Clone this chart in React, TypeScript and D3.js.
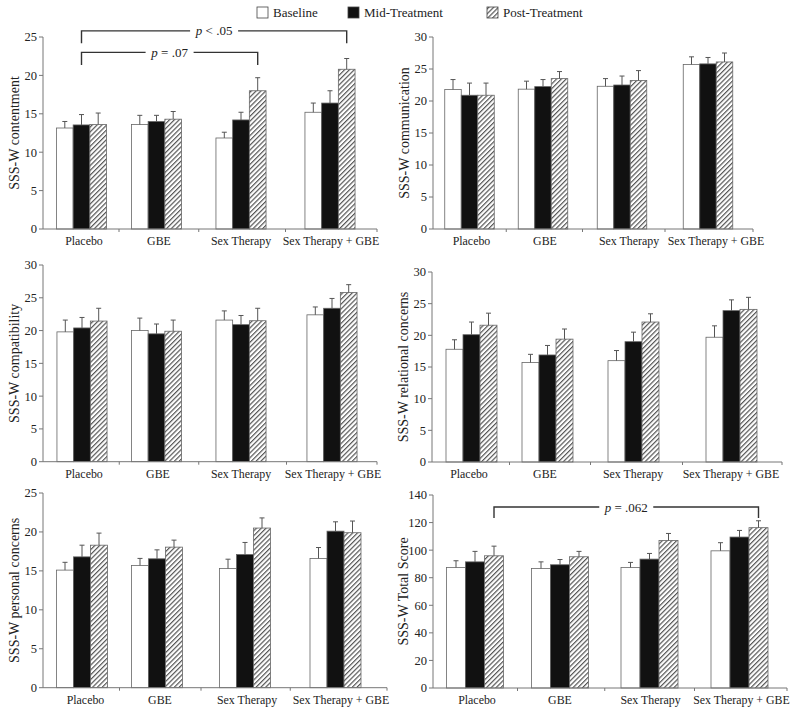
import React from 'react';
import * as d3 from 'd3';

const groups = ['Placebo', 'GBE', 'Sex Therapy', 'Sex Therapy + GBE'];
const seriesNames = ['Baseline', 'Mid-Treatment', 'Post-Treatment'];

// values per series: [Baseline], [Mid], [Post], each across groups
const contentmentMean = [
  [13.15, 13.6, 11.85, 15.2],
  [13.55, 14.0, 14.2, 16.4],
  [13.6, 14.3, 18.0, 20.8],
];
const contentmentUpper = [
  [14.0, 14.8, 12.6, 16.4],
  [14.9, 14.8, 15.2, 18.0],
  [15.1, 15.3, 19.7, 22.2],
];
const communicationMean = [
  [21.8, 21.85, 22.3, 25.7],
  [20.9, 22.25, 22.5, 25.8],
  [20.9, 23.5, 23.2, 26.1],
];
const communicationUpper = [
  [23.35, 23.1, 23.5, 26.9],
  [22.8, 23.35, 23.9, 26.8],
  [22.8, 24.6, 24.75, 27.5],
];
const compatibilityMean = [
  [19.8, 20.0, 21.6, 22.4],
  [20.4, 19.5, 20.9, 23.4],
  [21.45, 19.9, 21.5, 25.8],
];
const compatibilityUpper = [
  [21.6, 21.9, 23.0, 23.6],
  [22.0, 21.0, 22.3, 24.9],
  [23.4, 21.6, 23.4, 27.0],
];
const relationalMean = [
  [17.8, 15.7, 16.0, 19.7],
  [20.1, 16.9, 19.0, 23.9],
  [21.6, 19.4, 22.1, 24.1],
];
const relationalUpper = [
  [19.3, 17.0, 17.6, 21.5],
  [22.1, 18.4, 20.5, 25.6],
  [23.5, 21.0, 23.4, 26.0],
];
const personalMean = [
  [15.1, 15.7, 15.3, 16.6],
  [16.8, 16.55, 17.1, 20.1],
  [18.3, 18.05, 20.5, 19.9],
];
const personalUpper = [
  [16.1, 16.6, 16.5, 18.0],
  [18.3, 17.7, 18.65, 21.3],
  [19.85, 18.95, 21.8, 21.4],
];
const totalMean = [
  [87.4, 86.7, 87.4, 99.5],
  [91.5, 89.4, 93.5, 109.5],
  [95.9, 95.2, 107.0, 116.3],
];
const totalUpper = [
  [92.3, 91.5, 91.1, 105.4],
  [99.1, 93.2, 97.6, 114.3],
  [102.9, 99.1, 112.1, 121.3],
];

const titles = [
  'SSS-W contentment',
  'SSS-W communication',
  'SSS-W compatibility',
  'SSS-W relational concerns',
  'SSS-W personal concerns',
  'SSS-W Total Score',
];

type Bracket = { from: [number, number]; to: [number, number]; y: number; drop: number; label: string };

// layout (pixel ranges for the group scales)
const panels = [
  { title: titles[0], mean: contentmentMean, upper: contentmentUpper, yMax: 25, step: 5,
    axisX: 43, yTop: 37, yBottom: 229, xEnd: 377,
    groupRange: [81.5, 156.5, 241, 330], labelRange: [84, 159, 241, 331], barW: 16.7, titleX: 14,
    brackets: [
      { from: [0, 1], to: [3, 2], y: 25.8, drop: 24.2, label: ' < .05' },
      { from: [0, 1], to: [2, 2], y: 23.0, drop: 21.35, label: ' = .07' },
    ] as Bracket[] },
  { title: titles[1], mean: communicationMean, upper: communicationUpper, yMax: 30, step: 5,
    axisX: 433, yTop: 37, yBottom: 229, xEnd: 753,
    groupRange: [469.5, 543, 622, 708], labelRange: [471.5, 545, 629, 716], barW: 16.5, titleX: 404,
    brackets: [] as Bracket[] },
  { title: titles[2], mean: compatibilityMean, upper: compatibilityUpper, yMax: 30, step: 5,
    axisX: 43, yTop: 265, yBottom: 461.7, xEnd: 377,
    groupRange: [82, 156.5, 241, 332], labelRange: [84, 158, 241, 333], barW: 16.7, titleX: 14,
    brackets: [] as Bracket[] },
  { title: titles[3], mean: relationalMean, upper: relationalUpper, yMax: 30, step: 5,
    axisX: 432, yTop: 272, yBottom: 462, xEnd: 782,
    groupRange: [471.5, 547.5, 633.5, 731.5], labelRange: [469, 545, 633, 731], barW: 17, titleX: 403,
    brackets: [] as Bracket[] },
  { title: titles[4], mean: personalMean, upper: personalUpper, yMax: 25, step: 5,
    axisX: 43, yTop: 493, yBottom: 687.7, xEnd: 387,
    groupRange: [82, 157, 245, 335.5], labelRange: [85.5, 160, 247, 341], barW: 17, titleX: 14,
    brackets: [] as Bracket[] },
  { title: titles[5], mean: totalMean, upper: totalUpper, yMax: 140, step: 20,
    axisX: 433, yTop: 495, yBottom: 688, xEnd: 787,
    groupRange: [475, 560, 649.5, 739.5], labelRange: [477, 560, 650.5, 741.5], barW: 19, titleX: 403,
    brackets: [
      { from: [0, 2], to: [3, 2], y: 131.3, drop: 123.3, label: ' = .062' },
    ] as Bracket[] },
];

const FONT = '"Liberation Serif", "Times New Roman", serif';
const AXIS = '#777';
const fills = ['#ffffff', '#111111', 'url(#hatch)'];

function Panel({ p }: { p: typeof panels[number] }) {
  const y = d3.scaleLinear().domain([0, p.yMax]).range([p.yBottom, p.yTop]);
  const gi = d3.scaleOrdinal<string, number>().domain(groups).range(d3.range(groups.length));
  const x = d3.scaleLinear().domain(d3.range(groups.length)).range(p.groupRange);
  const xl = d3.scaleLinear().domain(d3.range(groups.length)).range(p.labelRange);
  const xs = d3.scaleBand<string>().domain(seriesNames).range([-1.5 * p.barW, 1.5 * p.barW]);
  const ticks = d3.range(0, p.yMax + p.step / 2, p.step);
  const centers = groups.map((g) => x(gi(g)));
  const sepTicks = centers.slice(0, -1).map((c, i) => (c + centers[i + 1]) / 2).concat([p.xEnd]);
  const barCenter = (g: number, si: number) => x(g) + (xs(seriesNames[si]) as number) + xs.bandwidth() / 2;
  const titleY = (p.yTop + p.yBottom) / 2;
  return (
    <g>
      {seriesNames.map((s, si) =>
        groups.map((g) => {
          const v = p.mean[si][gi(g)];
          const bx = x(gi(g)) + (xs(s) as number);
          return (
            <rect key={s + g} x={bx} y={y(v)} width={xs.bandwidth()} height={p.yBottom - y(v)}
              fill={fills[si]} stroke="#666" strokeWidth={0.8} />
          );
        })
      )}
      {seriesNames.map((s, si) =>
        groups.map((g) => {
          const k = gi(g);
          const cx = barCenter(k, si);
          const top = y(p.upper[si][k]);
          return (
            <g key={'e' + s + g} stroke="#555" strokeWidth={1}>
              <line x1={cx} x2={cx} y1={y(p.mean[si][k])} y2={top} />
              <line x1={cx - 2.5} x2={cx + 2.5} y1={top} y2={top} />
            </g>
          );
        })
      )}
      <line x1={p.axisX} x2={p.axisX} y1={p.yBottom} y2={p.yTop} stroke={AXIS} strokeWidth={1} />
      {ticks.map((t) => (
        <g key={'t' + t}>
          <line x1={p.axisX - 4} x2={p.axisX} y1={y(t)} y2={y(t)} stroke={AXIS} />
          <text x={p.axisX - 6} y={y(t)} dy="0.35em" textAnchor="end" fontSize={12.5} fill="#222" fontFamily={FONT}>{t}</text>
        </g>
      ))}
      <line x1={p.axisX} x2={p.xEnd} y1={p.yBottom} y2={p.yBottom} stroke={AXIS} strokeWidth={1} />
      {sepTicks.map((t, i) => (
        <line key={'s' + i} x1={t} x2={t} y1={p.yBottom} y2={p.yBottom + 3} stroke={AXIS} />
      ))}
      {groups.map((g) => (
        <text key={'l' + g} x={xl(gi(g))} y={p.yBottom + 16} textAnchor="middle" fontSize={11.9} fill="#222" fontFamily={FONT}>{g}</text>
      ))}
      <text transform={`translate(${p.titleX},${titleY}) rotate(-90)`} textAnchor="middle" dy="0.35em" fontSize={14} fill="#222" fontFamily={FONT}>{p.title}</text>
      {p.brackets.map((b, i) => {
        const x1 = barCenter(b.from[0], b.from[1]);
        const x2 = barCenter(b.to[0], b.to[1]);
        const by = y(b.y);
        const bd = y(b.drop);
        const mid = (x1 + x2) / 2;
        const gap = b.label.length > 6 ? 27 : 24;
        return (
          <g key={'b' + i}>
            <path d={`M${x1},${bd}V${by}H${mid - gap}M${mid + gap},${by}H${x2}V${bd}`} fill="none" stroke="#333" strokeWidth={1.4} />
            <text x={mid} y={by} dy="0.35em" textAnchor="middle" fontSize={13} fill="#222" fontFamily={FONT}>
              <tspan fontStyle="italic">p</tspan>{b.label}
            </text>
          </g>
        );
      })}
    </g>
  );
}

const legendX = [257, 348, 487];

export default function App() {
  return (
    <svg width={800} height={711} style={{ position: 'absolute', left: 0, top: 0, background: '#fff' }}>
      <defs>
        <pattern id="hatch" patternUnits="userSpaceOnUse" width={3.4} height={3.4} patternTransform="rotate(45)">
          <rect width={3.4} height={3.4} fill="#fff" />
          <line x1={0.6} y1={0} x2={0.6} y2={3.4} stroke="#555" strokeWidth={1.2} />
        </pattern>
      </defs>
      <rect width={800} height={711} fill="#fff" />
      {seriesNames.map((s, i) => (
        <g key={'lg' + s}>
          <rect x={legendX[i]} y={7} width={11} height={11} fill={fills[i]} stroke="#444" strokeWidth={0.8} />
          <text x={legendX[i] + 16} y={17} fontSize={13} fill="#222" fontFamily={FONT}>{s}</text>
        </g>
      ))}
      {panels.map((p, i) => <Panel key={i} p={p} />)}
    </svg>
  );
}
